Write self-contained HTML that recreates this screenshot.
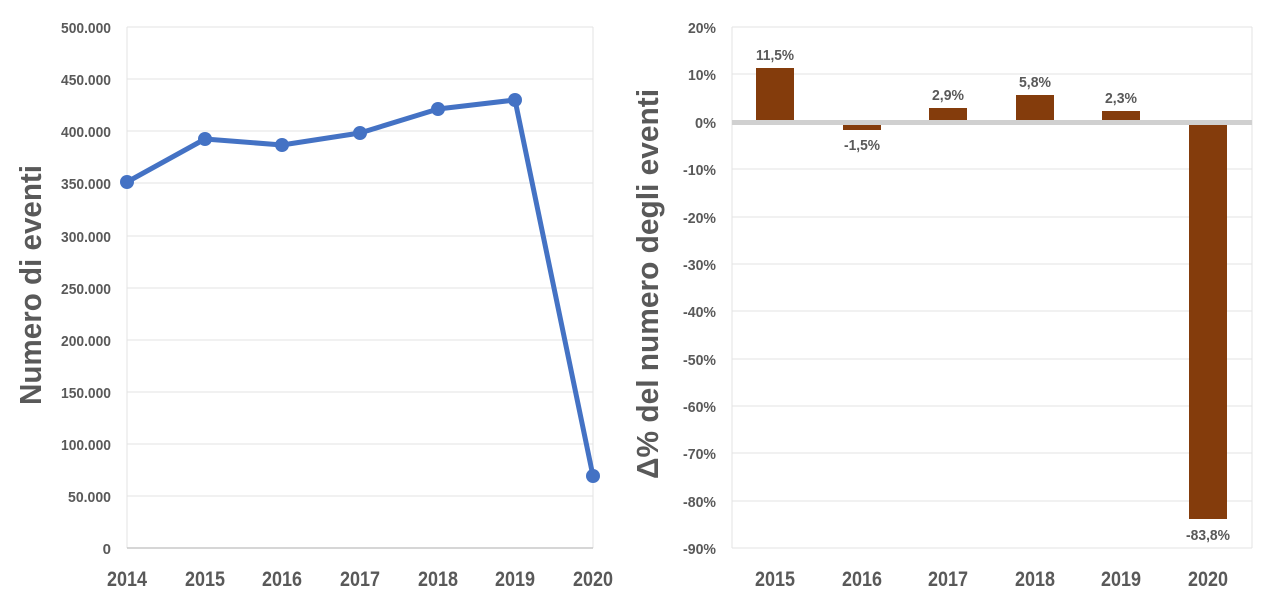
<!DOCTYPE html>
<html><head><meta charset="utf-8"><style>
html,body{margin:0;padding:0;background:#fff;width:1269px;height:605px;overflow:hidden}
text{font-family:"Liberation Sans Narrow","Liberation Sans",sans-serif;font-weight:bold;fill:#595959}
</style></head><body>
<svg width="1269" height="605" viewBox="0 0 1269 605" xmlns="http://www.w3.org/2000/svg">
<g stroke="#e3e3e3" stroke-width="1">
<line x1="127" y1="27" x2="593" y2="27"/>
<line x1="127" y1="79" x2="593" y2="79"/>
<line x1="127" y1="131" x2="593" y2="131"/>
<line x1="127" y1="183" x2="593" y2="183"/>
<line x1="127" y1="236" x2="593" y2="236"/>
<line x1="127" y1="288" x2="593" y2="288"/>
<line x1="127" y1="340" x2="593" y2="340"/>
<line x1="127" y1="392" x2="593" y2="392"/>
<line x1="127" y1="444" x2="593" y2="444"/>
<line x1="127" y1="496" x2="593" y2="496"/>
<line x1="127" y1="27" x2="127" y2="548"/>
<line x1="593" y1="27" x2="593" y2="548"/>
</g>
<line x1="127" y1="548" x2="593" y2="548" stroke="#c8c8c8" stroke-width="1.5"/>
<g font-size="15" text-anchor="end">
<text x="111" y="33" textLength="50" lengthAdjust="spacingAndGlyphs">500.000</text>
<text x="111" y="85" textLength="50" lengthAdjust="spacingAndGlyphs">450.000</text>
<text x="111" y="137" textLength="50" lengthAdjust="spacingAndGlyphs">400.000</text>
<text x="111" y="189" textLength="50" lengthAdjust="spacingAndGlyphs">350.000</text>
<text x="111" y="242" textLength="50" lengthAdjust="spacingAndGlyphs">300.000</text>
<text x="111" y="294" textLength="50" lengthAdjust="spacingAndGlyphs">250.000</text>
<text x="111" y="346" textLength="50" lengthAdjust="spacingAndGlyphs">200.000</text>
<text x="111" y="398" textLength="50" lengthAdjust="spacingAndGlyphs">150.000</text>
<text x="111" y="450" textLength="50" lengthAdjust="spacingAndGlyphs">100.000</text>
<text x="111" y="502" textLength="43" lengthAdjust="spacingAndGlyphs">50.000</text>
<text x="111" y="554">0</text>
</g>
<g font-size="21" text-anchor="middle">
<text x="127" y="586" textLength="40" lengthAdjust="spacingAndGlyphs">2014</text>
<text x="205" y="586" textLength="40" lengthAdjust="spacingAndGlyphs">2015</text>
<text x="282" y="586" textLength="40" lengthAdjust="spacingAndGlyphs">2016</text>
<text x="360" y="586" textLength="40" lengthAdjust="spacingAndGlyphs">2017</text>
<text x="438" y="586" textLength="40" lengthAdjust="spacingAndGlyphs">2018</text>
<text x="515" y="586" textLength="40" lengthAdjust="spacingAndGlyphs">2019</text>
<text x="593" y="586" textLength="40" lengthAdjust="spacingAndGlyphs">2020</text>
</g>
<text transform="translate(41,285) rotate(-90)" font-size="31" text-anchor="middle" textLength="240" lengthAdjust="spacingAndGlyphs">Numero di eventi</text>
<polyline fill="none" stroke="#4472c4" stroke-width="5" stroke-linejoin="round" points="127,182 205,139 282,145 360,133 438,109 515,100 593,476"/>
<g fill="#4472c4">
<circle cx="127" cy="182" r="7"/><circle cx="205" cy="139" r="7"/><circle cx="282" cy="145" r="7"/>
<circle cx="360" cy="133" r="7"/><circle cx="438" cy="109" r="7"/><circle cx="515" cy="100" r="7"/>
<circle cx="593" cy="476" r="7"/>
</g>

<g stroke="#e3e3e3" stroke-width="1">
<line x1="732" y1="27" x2="1252" y2="27"/>
<line x1="732" y1="74" x2="1252" y2="74"/>
<line x1="732" y1="169" x2="1252" y2="169"/>
<line x1="732" y1="217" x2="1252" y2="217"/>
<line x1="732" y1="264" x2="1252" y2="264"/>
<line x1="732" y1="311" x2="1252" y2="311"/>
<line x1="732" y1="359" x2="1252" y2="359"/>
<line x1="732" y1="406" x2="1252" y2="406"/>
<line x1="732" y1="453" x2="1252" y2="453"/>
<line x1="732" y1="501" x2="1252" y2="501"/>
<line x1="732" y1="548" x2="1252" y2="548"/>
<line x1="732" y1="27" x2="732" y2="548"/>
<line x1="1252" y1="27" x2="1252" y2="548"/>
</g>
<g font-size="15" text-anchor="end">
<text x="716" y="33" textLength="28" lengthAdjust="spacingAndGlyphs">20%</text>
<text x="716" y="80" textLength="28" lengthAdjust="spacingAndGlyphs">10%</text>
<text x="716" y="128" textLength="21" lengthAdjust="spacingAndGlyphs">0%</text>
<text x="716" y="175" textLength="33" lengthAdjust="spacingAndGlyphs">-10%</text>
<text x="716" y="223" textLength="33" lengthAdjust="spacingAndGlyphs">-20%</text>
<text x="716" y="270" textLength="33" lengthAdjust="spacingAndGlyphs">-30%</text>
<text x="716" y="317" textLength="33" lengthAdjust="spacingAndGlyphs">-40%</text>
<text x="716" y="365" textLength="33" lengthAdjust="spacingAndGlyphs">-50%</text>
<text x="716" y="412" textLength="33" lengthAdjust="spacingAndGlyphs">-60%</text>
<text x="716" y="459" textLength="33" lengthAdjust="spacingAndGlyphs">-70%</text>
<text x="716" y="507" textLength="33" lengthAdjust="spacingAndGlyphs">-80%</text>
<text x="716" y="554" textLength="33" lengthAdjust="spacingAndGlyphs">-90%</text>
</g>
<g fill="#843c0c">
<rect x="756" y="68" width="38" height="54"/>
<rect x="843" y="122" width="38" height="8"/>
<rect x="929" y="108" width="38" height="14"/>
<rect x="1016" y="95" width="38" height="27"/>
<rect x="1102" y="111" width="38" height="11"/>
<rect x="1189" y="122" width="38" height="397"/>
</g>
<rect x="732" y="120" width="520" height="5" fill="#d0d0d0"/>
<g font-size="15" text-anchor="middle">
<text x="775" y="60" textLength="38" lengthAdjust="spacingAndGlyphs">11,5%</text>
<text x="862" y="150" textLength="36" lengthAdjust="spacingAndGlyphs">-1,5%</text>
<text x="948" y="100" textLength="32" lengthAdjust="spacingAndGlyphs">2,9%</text>
<text x="1035" y="87" textLength="32" lengthAdjust="spacingAndGlyphs">5,8%</text>
<text x="1121" y="103" textLength="32" lengthAdjust="spacingAndGlyphs">2,3%</text>
<text x="1208" y="540" textLength="44" lengthAdjust="spacingAndGlyphs">-83,8%</text>
</g>
<g font-size="21" text-anchor="middle">
<text x="775" y="586" textLength="40" lengthAdjust="spacingAndGlyphs">2015</text>
<text x="862" y="586" textLength="40" lengthAdjust="spacingAndGlyphs">2016</text>
<text x="948" y="586" textLength="40" lengthAdjust="spacingAndGlyphs">2017</text>
<text x="1035" y="586" textLength="40" lengthAdjust="spacingAndGlyphs">2018</text>
<text x="1121" y="586" textLength="40" lengthAdjust="spacingAndGlyphs">2019</text>
<text x="1208" y="586" textLength="40" lengthAdjust="spacingAndGlyphs">2020</text>
</g>
<text transform="translate(658,284) rotate(-90)" font-size="31" text-anchor="middle" textLength="390" lengthAdjust="spacingAndGlyphs">Δ% del numero degli eventi</text>
</svg>
</body></html>
